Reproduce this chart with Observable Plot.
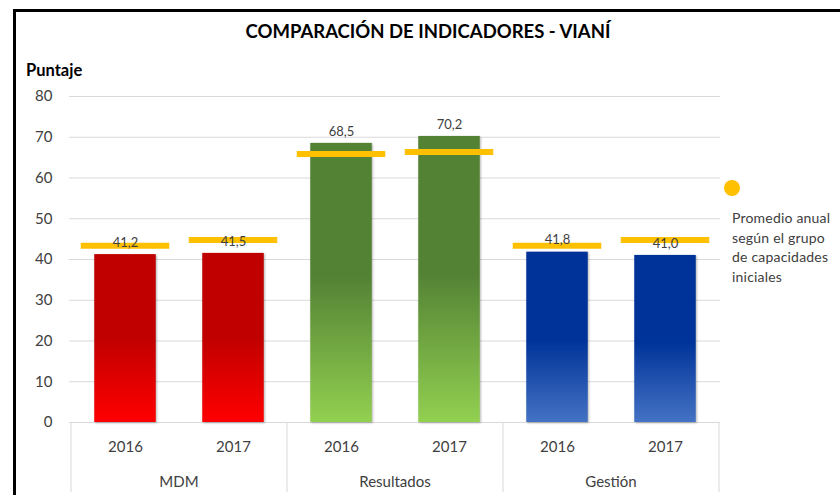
<!DOCTYPE html>
<html><head><meta charset="utf-8">
<script src="https://cdn.jsdelivr.net/npm/d3@7"></script>
<script src="https://cdn.jsdelivr.net/npm/@observablehq/plot@0.6"></script>
<style>
body{margin:0;background:#fff;font-family:Lato,"Open Sans",sans-serif;}
#wrap{position:relative;width:840px;height:495px;overflow:hidden;background:#fff;}
#frame{position:absolute;left:13px;top:9px;width:900px;height:600px;border-left:3px solid #000;border-top:3px solid #000;box-sizing:border-box;pointer-events:none;}
#title{position:absolute;left:0;width:856px;top:20px;line-height:22px;text-align:center;font-weight:bold;font-size:18.5px;color:#000;}
#ylabel{position:absolute;left:26px;top:60px;line-height:20px;font-weight:bold;font-size:16.5px;color:#000;}
#chart{position:absolute;left:0;top:0;}
#legend{position:absolute;left:724px;top:180px;font-size:14px;letter-spacing:0.2px;color:#404040;}
#legend .dot{width:16px;height:16px;border-radius:50%;background:#FFC000;}
#legend .txt{margin-top:12px;margin-left:8px;line-height:19.6px;}
#defs{position:absolute;width:0;height:0;}
.bars{filter:drop-shadow(1px 1px 1px rgba(0,0,0,0.3));}
</style></head>
<body>
<svg id="defs" width="0" height="0">
  <defs>
    <linearGradient id="grad-MDM" x1="0" y1="0" x2="0" y2="1">
      <stop offset="0" stop-color="#C00000"/><stop offset="0.5" stop-color="#C00000"/><stop offset="1" stop-color="#FF0000"/>
    </linearGradient>
    <linearGradient id="grad-Resultados" x1="0" y1="0" x2="0" y2="1">
      <stop offset="0" stop-color="#548235"/><stop offset="0.48" stop-color="#548235"/><stop offset="1" stop-color="#92D050"/>
    </linearGradient>
    <linearGradient id="grad-Gestion" x1="0" y1="0" x2="0" y2="1">
      <stop offset="0" stop-color="#003399"/><stop offset="0.52" stop-color="#003399"/><stop offset="1" stop-color="#4472C4"/>
    </linearGradient>
  </defs>
</svg>
<div id="wrap">
  <div id="chart"></div>
  <div id="frame"></div>
  <div id="title"></div>
  <div id="ylabel"></div>
  <div id="legend"><div class="dot"></div><div class="txt"></div></div>
</div>
<script>
const titleText = "COMPARACIÓN DE INDICADORES - VIANÍ";
const yLabelText = "Puntaje";
const groups = ["MDM", "Resultados", "Gestión"];
const years = ["2016", "2017"];
const values = [41.2, 41.5, 68.5, 70.2, 41.8, 41.0];
const averages = [43.4, 44.8, 65.9, 66.4, 43.4, 44.8];
const yTicks = [0, 10, 20, 30, 40, 50, 60, 70, 80];
const legendLines = ["Promedio anual", "según el grupo", "de capacidades", "iniciales"];

const gradientIds = {"MDM": "grad-MDM", "Resultados": "grad-Resultados", "Gestión": "grad-Gestion"};

const rows = values.map((v, i) => {
  const group = groups[Math.floor(i / years.length)];
  const year = years[i % years.length];
  return {group, year, key: group + "|" + year, value: v, avg: averages[i]};
});
const keys = rows.map(d => d.key);
const fmt = v => v.toFixed(1).replace(".", ",");

document.getElementById("title").textContent = titleText;
document.getElementById("ylabel").textContent = yLabelText;
document.querySelector("#legend .txt").innerHTML = legendLines.map(s => `<div>${s}</div>`).join("");

function groupAxis(index, scales, values, dims) {
  const x = scales.x;
  const bw = x(keys[1]) - x(keys[0]);
  const g = d3.create("svg:g");
  const y0 = dims.height - dims.marginBottom;
  const edges = [];
  groups.forEach(gr => {
    const ks = keys.filter(k => k.startsWith(gr + "|"));
    const a = x(ks[0]), b = x(ks[ks.length - 1]) + bw;
    edges.push(a, b);
    g.append("text").attr("x", (a + b) / 2).attr("y", 487)
      .attr("text-anchor", "middle").attr("fill", "#404040").attr("font-size", 15)
      .text(gr);
  });
  Array.from(new Set(edges)).forEach(e => {
    g.append("line").attr("x1", e).attr("x2", e).attr("y1", y0).attr("y2", y0 + 70)
      .attr("stroke", "#d9d9d9").attr("stroke-width", 1);
  });
  return g.node();
}

const plot = Plot.plot({
  width: 840,
  height: 495,
  marginLeft: 69,
  marginRight: 120,
  marginTop: 96,
  marginBottom: 73,
  style: {fontFamily: "Lato, 'Open Sans', sans-serif", fontSize: "15px", color: "#404040", background: "transparent"},
  x: {domain: keys, padding: 0, label: null, axis: null},
  y: {domain: [0, 80], label: null, axis: null},
  color: {type: "identity"},
  marks: [
    Plot.gridY(yTicks, {stroke: "#d9d9d9", strokeOpacity: 1}),
    Plot.axisY({ticks: yTicks, tickSize: 0, tickPadding: 17, label: null, fontSize: 15}),
    Plot.ruleY([0], {stroke: "#d9d9d9"}),
    Plot.barY(rows, {x: "key", y: "value", fill: d => `url(#${gradientIds[d.group]})`, insetLeft: 23.25, insetRight: 23.25, className: "bars"}),
    Plot.tickY(rows, {x: "key", y: "avg", stroke: "#FFC000", strokeWidth: 6, inset: 9.75}),
    Plot.text(rows, {x: "key", y: "value", text: d => fmt(d.value), dy: -12, fontSize: 13, fill: "#404040"}),
    Plot.axisX({tickSize: 0, tickPadding: 19, tickFormat: k => k.split("|")[1], label: null, fontSize: 15}),
    groupAxis
  ]
});
document.getElementById("chart").appendChild(plot);
</script>
</body></html>
